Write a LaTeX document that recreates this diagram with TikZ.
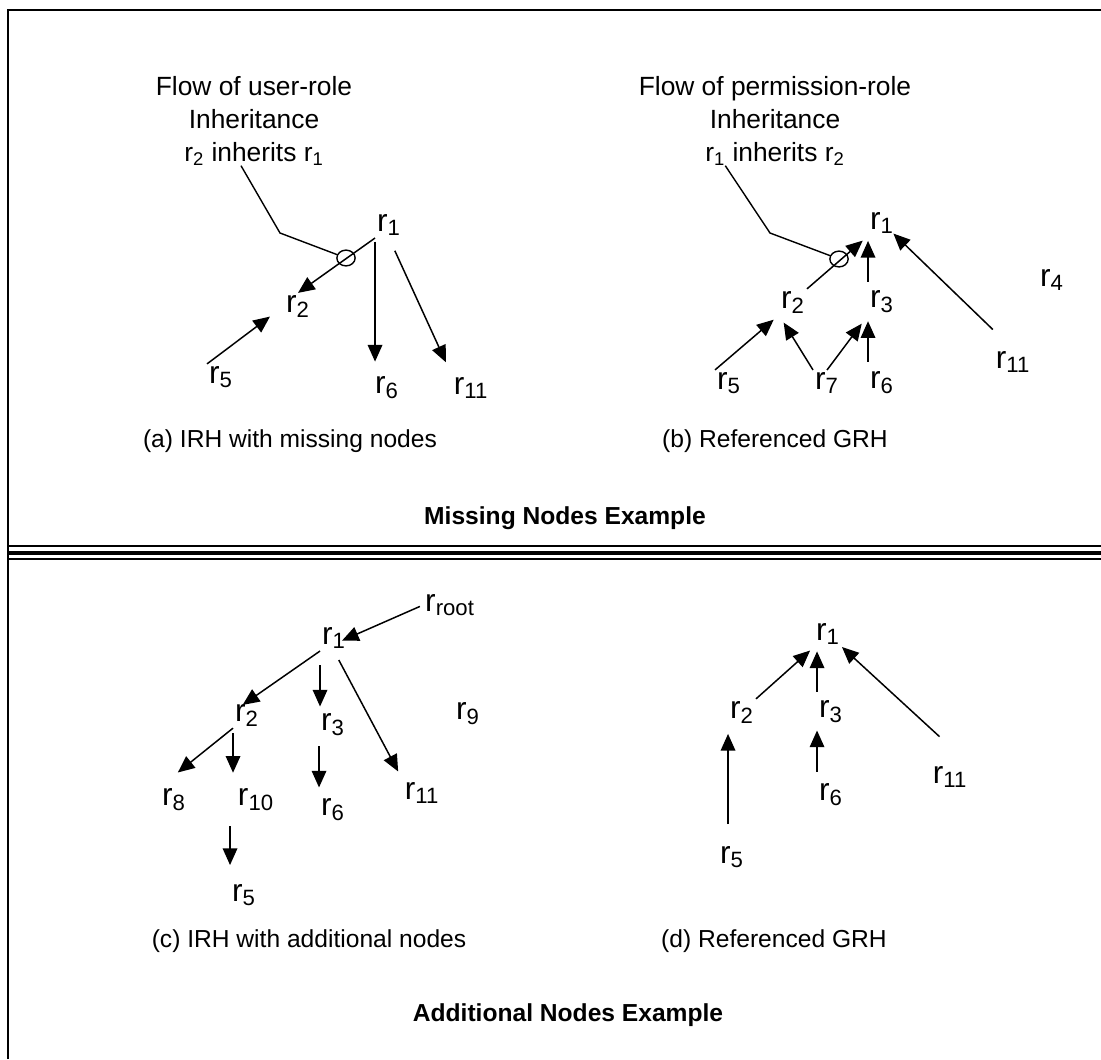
\documentclass[tikz,border=0pt]{standalone}
\usepackage{fontspec}
\setmainfont{Liberation Sans}
\usepackage{tikz}
\usetikzlibrary{positioning, arrows.meta, shapes.geometric, calc}
\newcommand{\role}[1]{r\textsubscript{#1}}
\tikzstyle{arrow} = [line width=0.85pt, -{Triangle[length=9.5pt,width=8.3pt]}]
\tikzstyle{callout} = [line width=0.8pt]
\tikzset{
  role/.style={inner sep=1pt, font=\fontsize{18}{20}\selectfont},
  heading/.style={align=center, inner sep=0pt, anchor=north, font=\fontsize{15}{18.7}\selectfont},
  caption/.style={inner sep=0pt, anchor=base, font=\fontsize{14}{16}\selectfont},
  section title/.style={inner sep=0pt, anchor=base, font=\fontsize{14}{16}\selectfont\bfseries},
  hole/.style={draw, ellipse, line width=0.8pt, inner sep=0pt, minimum width=10.4pt, minimum height=9pt}
}

\begin{document}
\begin{tikzpicture}[x=0.02cm, y=-0.02cm, font=\fontsize{17}{18.7}\selectfont]
            \useasboundingbox (0,0) rectangle (1101,1059);

            % Frame and separator
            \draw[line width=1.7pt] (8,1059) -- (8,10) -- (1101,10);
            \draw[line width=1.1pt] (8,546) -- (1101,546);
            \draw[line width=2.3pt] (8,553) -- (1101,553);
            \draw[line width=1.1pt] (8,559) -- (1101,559);

            % (a) IRH with missing nodes
            \node[heading] (ttla) at (254,76) {Flow of user-role\\Inheritance\\\role{2} inherits \role{1}};
            \node[role] (r1a) at (389,225) {\role{1}};
            \node[role] (r2a) at (298,306) {\role{2}};
            \node[role] (r5a) at (221,377) {\role{5}};
            \node[role] (r6a) at (387,388) {\role{6}};
            \node[role] (r11a) at (471,388) {\role{11}};
            \node[hole] (holea) at (346,258) {};
            \coordinate (kinka) at (280,233);
            \draw[callout] ([xshift=-7.4pt]ttla.south) -- (kinka) -- (holea);
            \draw[arrow] (r1a.south west) -- (r2a.north);
            \draw[arrow, shorten >=10pt] (r5a.north west) -- (r2a.west);
            \draw[arrow, shorten <=2pt, shorten >=7.5pt] (r1a.south west) -- (r1a.south west |- r6a.north);
            \draw[arrow, shorten <=8pt, shorten >=8pt] (r1a.south) -- (r11a.north west);
            \node[caption] (capa) at (290,447) {(a) IRH with missing nodes};

            % (b) Referenced GRH
            \node[heading] (ttlb) at (775,76) {Flow of permission-role\\Inheritance\\\role{1} inherits \role{2}};
            \node[role] (r1b) at (882,223) {\role{1}};
            \node[role] (r2b) at (793,302) {\role{2}};
            \node[role] (r3b) at (882,302) {\role{3}};
            \node[role] (r4b) at (1052,280) {\role{4}};
            \node[role] (r5b) at (729,383) {\role{5}};
            \node[role] (r7b) at (827,383) {\role{7}};
            \node[role] (r6b) at (882,383) {\role{6}};
            \node[role] (r11b) at (1013,362) {\role{11}};
            \node[hole] (holeb) at (839,259) {};
            \coordinate (kinkb) at (770,233);
            \draw[callout] ([xshift=-28.3pt]ttlb.south) -- (kinkb) -- (holeb);
            \draw[arrow, shorten >=4pt] (r2b.north east) -- (r1b.south west);
            \draw[arrow, shorten <=4pt, shorten >=2.8pt] (r3b.north west) -- (r3b.north west |- r1b.south);
            \draw[arrow, shorten <=16pt, shorten >=-2pt] (r11b.north) -- (r1b.south east);
            \draw[arrow, shorten >=4pt] (r5b.north west) -- (r2b.south west);
            \draw[arrow, shorten >=5pt] (r7b.north west) -- (r2b.south west);
            \draw[arrow, shorten >=6pt] (r7b.north) -- (r3b.south west);
            \draw[arrow, shorten <=4.5pt, shorten >=3.4pt] (r6b.north west) -- (r6b.north west |- r3b.south);
            \node[caption] (capb) at (775,447) {(b) Referenced GRH};

            \node[section title] (secmiss) at (565,524) {Missing Nodes Example};

            % (c) IRH with additional nodes
            \node[role] (rroot) at (450,605) {r\textsubscript{root}};
            \node[role] (r1c) at (334,638) {\role{1}};
            \node[role] (r2c) at (247,715) {\role{2}};
            \node[role] (r3c) at (333,725) {\role{3}};
            \node[role] (r9c) at (468,714) {\role{9}};
            \node[role] (r8c) at (174,800) {\role{8}};
            \node[role] (r10c) at (256,800) {\role{10}};
            \node[role] (r6c) at (333,810) {\role{6}};
            \node[role] (r11c) at (422,793) {\role{11}};
            \node[role] (r5c) at (244,895) {\role{5}};
            \draw[arrow, shorten <=2pt, shorten >=-3.7pt] (rroot.west) -- (r1c.east);
            \draw[arrow, shorten >=-3pt] (r1c.south west) -- (r2c.north);
            \draw[arrow, shorten <=8pt, shorten >=3pt] (r1c.south west) -- (r1c.south west |- r3c.north);
            \draw[arrow, shorten <=5.8pt, shorten >=5.5pt] (r1c.south) -- (r11c.north west);
            \draw[arrow, shorten >=13pt] (r2c.south west) -- (r8c.north west);
            \draw[arrow, shorten <=3pt, shorten >=8pt] (r2c.south west) -- (r2c.south west |- r10c.north);
            \draw[arrow, shorten <=4.5pt, shorten >=5.3pt] (r3c.south west) -- (r3c.south west |- r6c.north);
            \draw[arrow, shorten <=7.4pt, shorten >=9.6pt] (r5c.north west |- r10c.south) -- (r5c.north west);
            \node[caption] (capc) at (309,947) {(c) IRH with additional nodes};

            % (d) Referenced GRH
            \node[role] (r1d) at (828,634) {\role{1}};
            \node[role] (r2d) at (742,712) {\role{2}};
            \node[role] (r3d) at (831,712) {\role{3}};
            \node[role] (r6d) at (831,795) {\role{6}};
            \node[role] (r11d) at (950,777) {\role{11}};
            \node[role] (r5d) at (732,857) {\role{5}};
            \draw[arrow, shorten >=3pt] (r2d.north east) -- (r1d.south west);
            \draw[arrow, shorten <=4pt, shorten >=2.5pt] (r3d.north west) -- (r3d.north west |- r1d.south);
            \draw[arrow, shorten <=23pt] (r11d.north east) -- (r1d.south east);
            \draw[arrow, shorten <=11.3pt, shorten >=5pt] (r2d.south west |- r5d.north) -- (r2d.south west);
            \draw[arrow, shorten <=5.7pt, shorten >=3pt] (r6d.north west) -- (r6d.north west |- r3d.south);
            \node[caption] (capd) at (774,947) {(d) Referenced GRH};

            \node[section title] (secadd) at (568,1021) {Additional Nodes Example};
        \end{tikzpicture}
\end{document}
